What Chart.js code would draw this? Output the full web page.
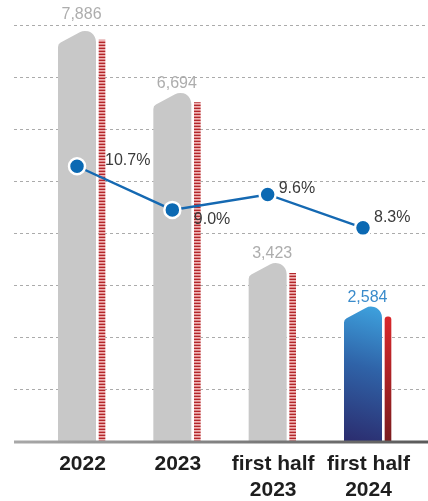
<!DOCTYPE html>
<html>
<head>
<meta charset="utf-8">
<script src="https://cdn.jsdelivr.net/npm/chart.js@4/dist/chart.umd.min.js"></script>
<style>
  html, body { margin: 0; padding: 0; background: #fff; }
  #wrap { position: relative; width: 428px; height: 501px; }
</style>
</head>
<body>
<div id="wrap"><canvas id="chart"></canvas></div>
<script>
// Periods on the category axis
const categories = ['2022', '2023', ['first half', '2023'], ['first half', '2024']];
// Main amounts (wide bars)
const mainValues = [7886, 6694, 3423, 2584];
// Companion amounts (thin bars beside each main bar)
const sideValues = [7710, 6510, 3225, 2390];
// Ratio line, in percent
const ratioValues = [10.7, 9.0, 9.6, 8.3];
// Value-axis grid steps
const gridValues = [1000, 2000, 3000, 4000, 5000, 6000, 7000, 8000];

const FONT = "'Liberation Sans', Arial, Helvetica, sans-serif";
const MAIN_WIDTH = 38;
const SIDE_WIDTH = 6;
const SIDE_SHIFT = 25;                 // thin bar sits to the right of the wide one
const HIGHLIGHT = mainValues.length - 1; // latest period is drawn in colour

// label placement relative to each ratio point: [dx to text start, dy to text middle]
const ratioLabelOffsets = [[28, -6], [21.5, 10], [11, -6], [11, -10.5]];

// Wide bar with a slanted, rounded "tab" top
class TabBar extends Chart.BarElement {
  draw(ctx) {
    const {x, y, base, width} = this.getProps(['x', 'y', 'base', 'width']);
    const x0 = x - width / 2, x1 = x + width / 2;
    const R = 11, drop = 13, r = 5;
    const cx = x1 - R, cy = y + R;
    const a = -Math.PI / 2 - 0.5;
    const bx = cx + R * Math.cos(a), by = cy + R * Math.sin(a);
    ctx.save();
    ctx.beginPath();
    ctx.moveTo(x0, base);
    ctx.lineTo(x0, y + drop + r);
    ctx.arcTo(x0, y + drop, bx, by, r);
    ctx.arc(cx, cy, R, a, 0);
    ctx.lineTo(x1, base);
    ctx.closePath();
    ctx.fillStyle = this.options.backgroundColor;
    ctx.fill();
    ctx.restore();
  }
}
TabBar.id = 'tabBar';
TabBar.defaults = Object.assign({}, Chart.BarElement.defaults);

class TabBarController extends Chart.BarController {}
TabBarController.id = 'tabBar';
TabBarController.defaults = Object.assign({}, Chart.BarController.defaults, {dataElementType: 'tabBar'});
Chart.register(TabBar, TabBarController);

// striped fill for the thin bars
function makeStripes() {
  const c = document.createElement('canvas');
  c.width = 4; c.height = 3;
  const g = c.getContext('2d');
  g.fillStyle = '#b3262a'; g.fillRect(0, 0, 4, 1);
  g.fillStyle = '#eeb4b4'; g.fillRect(0, 1, 4, 1);
  g.fillStyle = '#dd8587'; g.fillRect(0, 2, 4, 1);
  return g.createPattern(c, 'repeat');
}
let stripes = null;

function mainFill(c) {
  if (c.dataIndex !== HIGHLIGHT) return '#c8c8c8';
  const chart = c.chart, area = chart.chartArea;
  if (!area) return '#3470b5';
  const cx = chart.scales.x.getPixelForValue(c.dataIndex);
  const top = chart.scales.y.getPixelForValue(mainValues[c.dataIndex]);
  const g = chart.ctx.createLinearGradient(cx - MAIN_WIDTH / 2, area.bottom, cx + MAIN_WIDTH / 2, top);
  g.addColorStop(0, '#2b2c6e');
  g.addColorStop(0.55, '#2f63a8');
  g.addColorStop(1, '#3ea3df');
  return g;
}

function sideFill(c) {
  const chart = c.chart;
  if (c.dataIndex !== HIGHLIGHT) {
    if (!stripes) stripes = makeStripes();
    return stripes;
  }
  const area = chart.chartArea;
  if (!area) return '#b52025';
  const top = chart.scales.y.getPixelForValue(sideValues[c.dataIndex]);
  const g = chart.ctx.createLinearGradient(0, top, 0, area.bottom);
  g.addColorStop(0, '#d9282c');
  g.addColorStop(1, '#7a1c1e');
  return g;
}

const decor = {
  id: 'decor',
  afterDatasetsUpdate(chart) {
    // push the thin bars beside the wide ones
    const meta = chart.getDatasetMeta(2);
    meta.data.forEach(el => { el.x += SIDE_SHIFT; });
  },
  beforeDatasetsDraw(chart) {
    const {ctx, width} = chart;
    const y = chart.scales.y;
    ctx.save();
    ctx.strokeStyle = '#ababab';
    ctx.lineWidth = 1;
    ctx.setLineDash([3, 3]);
    gridValues.forEach(v => {
      const py = Math.round(y.getPixelForValue(v)) + 0.5;
      ctx.beginPath();
      ctx.moveTo(14, py);
      ctx.lineTo(width, py);
      ctx.stroke();
    });
    ctx.restore();
  },
  afterDatasetsDraw(chart) {
    const {ctx, width, chartArea} = chart;
    const y = chart.scales.y;
    // baseline
    const by = y.getPixelForValue(0) + 1;
    const lg = ctx.createLinearGradient(14, 0, width, 0);
    lg.addColorStop(0, '#a8a8a8');
    lg.addColorStop(1, '#5a5a5a');
    ctx.save();
    ctx.strokeStyle = lg;
    ctx.lineWidth = 3;
    ctx.beginPath();
    ctx.moveTo(14, by);
    ctx.lineTo(width, by);
    ctx.stroke();

    // amount labels above the wide bars
    ctx.font = '16px ' + FONT;
    ctx.textAlign = 'center';
    ctx.textBaseline = 'alphabetic';
    chart.getDatasetMeta(1).data.forEach((el, i) => {
      let ly = el.y - 5;
      if (ly - 12 < chartArea.top + 2 && ly > chartArea.top - 4) ly = chartArea.top - 6.5;
      ctx.fillStyle = i === HIGHLIGHT ? '#3a8bcb' : '#adadad';
      ctx.fillText(mainValues[i].toLocaleString('en-US'), el.x + 4.5, ly);
    });

    // ratio labels
    ctx.textAlign = 'left';
    ctx.textBaseline = 'middle';
    ctx.fillStyle = '#3a3a3a';
    chart.getDatasetMeta(0).data.forEach((el, i) => {
      const [dx, dy] = ratioLabelOffsets[i];
      ctx.fillText(ratioValues[i].toFixed(1) + '%', el.x + dx, el.y + dy);
    });
    ctx.restore();
  }
};

new Chart(document.getElementById('chart'), {
  type: 'bar',
  data: {
    labels: categories,
    datasets: [
      {
        type: 'line',
        data: ratioValues,
        yAxisID: 'y2',
        order: 0,
        borderColor: '#1569b2',
        borderWidth: 2.4,
        pointRadius: 8,
        pointBorderWidth: 2.5,
        pointBackgroundColor: '#0b69b3',
        pointBorderColor: '#ffffff',
        tension: 0
      },
      {
        type: 'tabBar',
        data: mainValues,
        yAxisID: 'y',
        order: 2,
        grouped: false,
        barThickness: MAIN_WIDTH,
        backgroundColor: mainFill
      },
      {
        type: 'bar',
        data: sideValues,
        yAxisID: 'y',
        order: 1,
        grouped: false,
        barThickness: SIDE_WIDTH,
        borderRadius: c => c.dataIndex === HIGHLIGHT ? {topLeft: 3, topRight: 3} : 0,
        borderSkipped: 'bottom',
        backgroundColor: sideFill
      }
    ]
  },
  options: {
    responsive: true,
    maintainAspectRatio: false,
    animation: false,
    events: [],
    layout: { padding: { left: 29.35, right: 17.35, top: 25, bottom: 0 } },
    plugins: { legend: { display: false }, tooltip: { enabled: false } },
    scales: {
      x: {
        offset: true,
        grid: { display: false, drawTicks: false },
        border: { display: false },
        ticks: {
          color: '#1e1e1e',
          font: { family: FONT, size: 21, weight: 'bold', lineHeight: 1.25 },
          padding: 10,
          labelOffset: 5.5,
          maxRotation: 0,
          autoSkip: false
        },
        afterFit: s => { s.height = 60; }
      },
      y: { display: false, min: 0, max: 8000 },
      y2: { display: false, min: 0, max: 16.2 }
    }
  },
  plugins: [decor]
});
</script>
</body>
</html>
